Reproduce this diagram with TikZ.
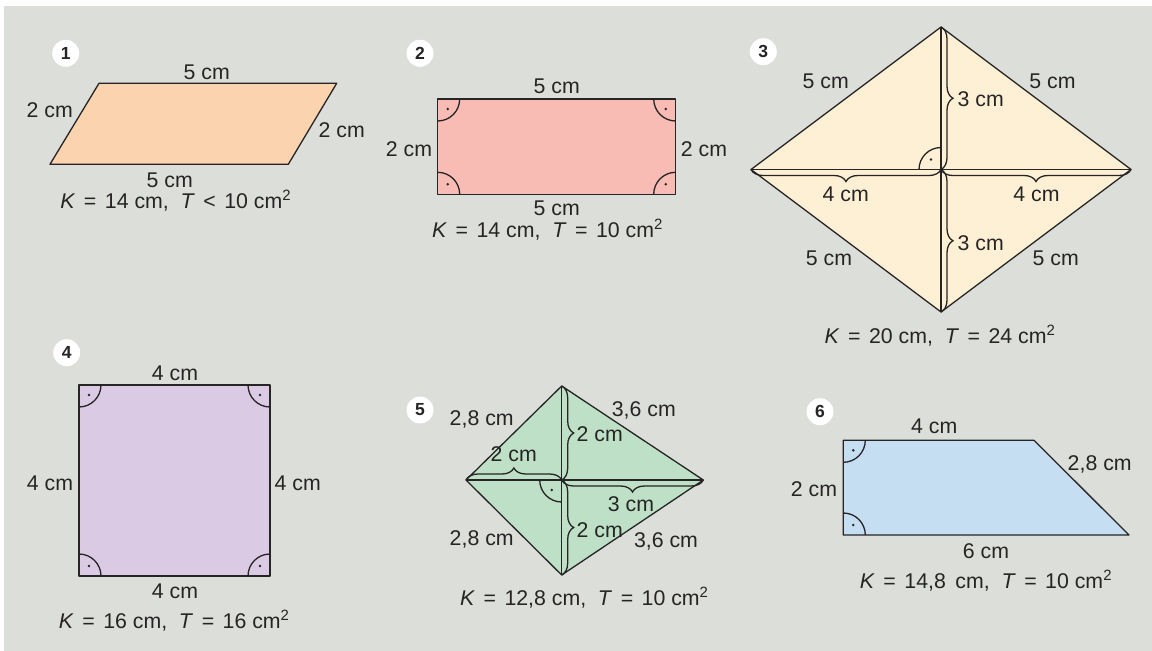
\documentclass[tikz,border=0pt]{standalone}
\usepackage{fontspec}
\setmainfont{Liberation Sans}
\usetikzlibrary{decorations.pathreplacing}
\definecolor{bg}{HTML}{DCDEDA}
\definecolor{ink}{HTML}{262424}
\definecolor{cA}{HTML}{FCD3AF}
\definecolor{cB}{HTML}{F8BCB5}
\definecolor{cC}{HTML}{FEF0D4}
\definecolor{cD}{HTML}{DACAE4}
\definecolor{cE}{HTML}{BEE0C6}
\definecolor{cF}{HTML}{C6DEF1}
\newcommand\ramark[3]{%
  \begin{scope}[shift={(#1)},xscale=#2,yscale=#3]
    \draw[edge] (22,0) .. controls (22,12.15) and (12.15,22) .. (0,22);
    \fill[ink] (10,10) circle[radius=1.4];
  \end{scope}}
\newcommand\rel[1]{\hspace{0.4em}#1\hspace{0.4em}}
\newcommand\frm[4]{\textit{K}\rel{=}#1 cm,\hspace{0.55em}\textit{T}\rel{#2}#3 cm\textsuperscript{2}#4}
\begin{document}
\begin{tikzpicture}[x=1pt,y=-1pt,
  edge/.style={draw=ink,line width=1.3pt,line join=round},
  shp/.style={edge},
  lab/.style={anchor=base,inner sep=0pt,text=ink,font=\fontsize{21.3}{24}\selectfont},
  numc/.style={circle,fill=white,inner sep=0pt,minimum size=27pt,text=ink,font=\bfseries\fontsize{17.5}{17.5}\selectfont},
  brc/.style={draw=ink,line width=1.3pt,decorate,decoration={brace,amplitude=12pt}},
  brcm/.style={draw=ink,line width=1.3pt,decorate,decoration={brace,amplitude=12pt,mirror}}]
\useasboundingbox (0,0) rectangle (1152,651);
\fill[white] (0,0) rectangle (1152,651);
\fill[bg] (4,6) rectangle (1152,651);

% ---------- figure 1 ----------
\node[numc] (n1) at (65.7,53.3) {1};
\coordinate (a1) at (99,83.3);
\coordinate (b1) at (336.7,83.3);
\coordinate (c1) at (288.3,164.3);
\coordinate (d1) at (50,164.3);
\filldraw[shp,fill=cA] (a1) -- (b1) -- (c1) -- (d1) -- cycle;
\node[lab] (t1a) at (206.7,79) {5 cm};
\node[lab] (t1b) at (49.7,117) {2 cm};
\node[lab] (t1c) at (341.7,137) {2 cm};
\node[lab] (t1d) at (169.7,187.5) {5 cm};
\node[lab] (f1) at (175.8,208.5) {\frm{14}{<}{10}{}};

% ---------- figure 2 ----------
\node[numc] (n2) at (420,53.3) {2};
\coordinate (a2) at (437.7,99);
\coordinate (b2) at (675.7,99);
\coordinate (c2) at (675.7,194.3);
\coordinate (d2) at (437.7,194.3);
\filldraw[shp,fill=cB] (a2) -- (b2) -- (c2) -- (d2) -- cycle;
\ramark{a2}{1}{1}
\ramark{b2}{-1}{1}
\ramark{c2}{-1}{-1}
\ramark{d2}{1}{-1}
\node[lab] (t2a) at (556.7,93.3) {5 cm};
\node[lab] (t2b) at (409,156.7) {2 cm};
\node[lab] (t2c) at (704,156.7) {2 cm};
\node[lab] (t2d) at (556.7,215) {5 cm};
\node[lab] (f2) at (547.5,237) {\frm{14}{=}{10}{}};

% ---------- figure 3 ----------
\node[numc] (n3) at (763.3,51.7) {3};
\coordinate (T3) at (941,27);
\coordinate (L3) at (751,169.5);
\coordinate (R3) at (1131,169.5);
\coordinate (B3) at (941,312);
\coordinate (O3) at (941,169.5);
\filldraw[shp,fill=cC] (T3) -- (R3) -- (B3) -- (L3) -- cycle;
\draw[edge] (T3) -- (B3);
\draw[edge] (L3) -- (R3);
\draw[brcm] (L3) -- (O3);
\draw[brcm] (O3) -- (R3);
\draw[brc] (T3) -- (O3);
\draw[brc] (O3) -- (B3);
\ramark{O3}{-1}{-1}
\node[lab] (t3a) at (825.8,88.3) {5 cm};
\node[lab] (t3b) at (1052.5,88.3) {5 cm};
\node[lab] (t3c) at (980.8,106.7) {3 cm};
\node[lab] (t3d) at (845.8,201.7) {4 cm};
\node[lab] (t3e) at (1036.5,201.7) {4 cm};
\node[lab] (t3f) at (980.8,250) {3 cm};
\node[lab] (t3g) at (829,265) {5 cm};
\node[lab] (t3h) at (1055.8,265) {5 cm};
\node[lab] (f3) at (940,343.3) {\frm{20}{=}{24}{}};

% ---------- figure 4 ----------
\node[numc] (n4) at (66.7,352.7) {4};
\coordinate (a4) at (79,385);
\coordinate (b4) at (270,385);
\coordinate (c4) at (270,576);
\coordinate (d4) at (79,576);
\filldraw[shp,fill=cD] (a4) -- (b4) -- (c4) -- (d4) -- cycle;
\ramark{a4}{1}{1}
\ramark{b4}{-1}{1}
\ramark{c4}{-1}{-1}
\ramark{d4}{1}{-1}
\node[lab] (t4a) at (175,380) {4 cm};
\node[lab] (t4b) at (50,490) {4 cm};
\node[lab] (t4c) at (297.8,490) {4 cm};
\node[lab] (t4d) at (175,598.3) {4 cm};
\node[lab] (f4) at (174.2,628.3) {\frm{16}{=}{16}{}};

% ---------- figure 5 ----------
\node[numc] (n5) at (420,410) {5};
\coordinate (T5) at (561.7,386);
\coordinate (L5) at (466,480);
\coordinate (R5) at (703.3,480);
\coordinate (B5) at (561.7,575);
\coordinate (O5) at (561.7,480);
\filldraw[shp,fill=cE] (T5) -- (R5) -- (B5) -- (L5) -- cycle;
\draw[edge] (T5) -- (B5);
\draw[edge] (L5) -- (R5);
\draw[brc] (L5) -- (O5);
\draw[brcm] (O5) -- (R5);
\draw[brc] (T5) -- (O5);
\draw[brc] (O5) -- (B5);
\ramark{O5}{-1}{1}
\node[lab] (t5a) at (481.7,425) {2,8 cm};
\node[lab] (t5b) at (643.8,416) {3,6 cm};
\node[lab] (t5c) at (599.7,441.7) {2 cm};
\node[lab] (t5d) at (513.7,461.7) {2 cm};
\node[lab] (t5e) at (631,511.7) {3 cm};
\node[lab] (t5f) at (599.7,537.7) {2 cm};
\node[lab] (t5g) at (481.7,545) {2,8 cm};
\node[lab] (t5h) at (666,547.3) {3,6 cm};
\node[lab] (f5) at (584.3,605) {\frm{12,8}{=}{10}{}};

% ---------- figure 6 ----------
\node[numc] (n6) at (820,411.7) {6};
\coordinate (a6) at (843.3,440.3);
\coordinate (b6) at (1034,440.3);
\coordinate (c6) at (1129,535);
\coordinate (d6) at (843.3,535);
\filldraw[shp,fill=cF] (a6) -- (b6) -- (c6) -- (d6) -- cycle;
\ramark{a6}{1}{1}
\ramark{d6}{1}{-1}
\node[lab] (t6a) at (934.3,433.3) {4 cm};
\node[lab] (t6b) at (1099.7,470) {2,8 cm};
\node[lab] (t6c) at (814,496.7) {2 cm};
\node[lab] (t6d) at (986,558.3) {6 cm};
\node[lab] (f6) at (986,588.3) {\textit{K}\rel{=}14,8\hspace{0.45em}cm,\hspace{0.55em}\textit{T}\rel{=}10 cm\textsuperscript{2}};
\end{tikzpicture}
\end{document}
